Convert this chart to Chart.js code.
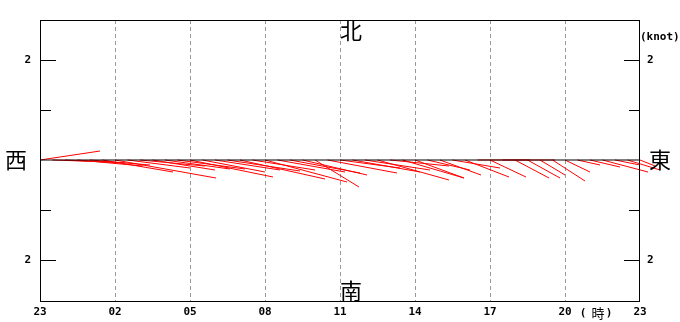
<!DOCTYPE html>
<html>
<head>
<meta charset="utf-8">
<script src="https://cdn.jsdelivr.net/npm/chart.js@4.4.1/dist/chart.umd.min.js"></script>
<style>
  html, body { margin: 0; padding: 0; background: #fff; }
  #wrap { width: 680px; height: 322px; position: relative; }
</style>
</head>
<body>
<div id="wrap"><canvas id="stick-chart"></canvas></div>
<script>
// hour axis (0 = 23h of the previous day)
const hourLabels = ['23', '02', '05', '08', '11', '14', '17', '20', '23'];
const yTicks = [-2, -1, 0, 1, 2];

// sample times in hours from start, every 30 minutes
const times = [
    0, 0.5, 1, 1.5, 2, 2.5, 3, 3.5, 4, 4.5, 5, 5.5, 6, 6.5, 7, 7.5,
    8, 8.5, 9, 9.5, 10, 10.5, 11, 11.5, 12, 12.5, 13, 13.5, 14, 14.5, 15, 15.5,
    16, 16.5, 17, 17.5, 18, 18.5, 19, 19.5, 20, 20.5, 21, 21.5, 22, 22.5, 23, 23.5, 24
];
// eastward component (knot)
const eastKnot = [
    1.20, 1.19, 1.20, 1.31, 1.20, 1.41, 2.02, 1.25, 1.30, 1.25, 1.30, 1.35, 1.66, 1.25, 1.30, 1.45,
    1.70, 1.25, 1.64, 1.35, 1.40, 1.29, 0.88, 1.39, 1.20, 1.35, 1.30, 1.43, 1.18, 1.23, 0.98, 0.85,
    0.82, 0.95, 0.88, 1.05, 0.72, 1.05, 0.68, 0.65, 0.50, 0.65, 0.50, 0.45, 0.60, 0.91, 0.50, 0.65, 0.30
];
// northward component (knot)
const northKnot = [
    0.18, -0.04, -0.06, -0.12, -0.10, -0.24, -0.36, -0.16, -0.12, -0.20, -0.18, -0.18, -0.34, -0.24, -0.20, -0.22,
    -0.38, -0.20, -0.44, -0.24, -0.26, -0.30, -0.54, -0.26, -0.16, -0.24, -0.20, -0.40, -0.12, -0.36, -0.36, -0.20,
    -0.30, -0.16, -0.34, 0.00, -0.34, 0.00, -0.36, -0.36, -0.30, -0.42, -0.24, -0.10, -0.14, -0.24, -0.10, -0.20, -0.12
];

// x axis: 25px per hour, y axis: 50px per knot -> 1 knot east = 2 hours on x
const hoursPerKnot = 2;

const monoFont = { family: 'DejaVu Sans Mono', size: 11, weight: 'bold' };
const cjkFont = '"Noto Sans CJK JP", "Noto Sans CJK SC", sans-serif';

// one dataset for every stick
const stickSets = times.map((t, i) => ({
    data: [{ x: t, y: 0 }, { x: t + eastKnot[i] * hoursPerKnot, y: northKnot[i] }],
    borderColor: '#ff0000',
    borderWidth: 1,
    pointRadius: 0,
    showLine: true,
    clip: false
}));

const baseLine = {
    data: [{ x: 0, y: 0 }, { x: 24, y: 0 }],
    borderColor: '#000',
    borderWidth: 1,
    pointRadius: 0,
    showLine: true
};

const decorations = {
    id: 'decorations',
    afterDraw(chart) {
        const ctx = chart.ctx;
        const area = chart.chartArea;
        const y = chart.scales.y;
        ctx.save();
        ctx.strokeStyle = '#000';
        ctx.lineWidth = 1;
        ctx.strokeRect(Math.round(area.left) + 0.5, Math.round(area.top) + 0.5,
            Math.round(area.right - area.left) - 1, Math.round(area.bottom - area.top) - 1);

        // inward tick marks on both sides
        ctx.beginPath();
        yTicks.forEach(v => {
            if (v === 0) return;
            const py = Math.round(y.getPixelForValue(v)) + 0.5;
            const len = Math.abs(v) === 2 ? 16 : 11;
            ctx.moveTo(area.left, py);
            ctx.lineTo(area.left + len, py);
            ctx.moveTo(area.right, py);
            ctx.lineTo(area.right - len, py);
        });
        ctx.stroke();

        // compass words
        ctx.fillStyle = '#000';
        ctx.textAlign = 'center';
        ctx.textBaseline = 'middle';
        ctx.font = '22px ' + cjkFont;
        const midX = (area.left + area.right) / 2;
        ctx.fillText('北', midX + 11, 31);
        ctx.fillText('南', midX + 11, 291);
        ctx.fillText('西', 16, y.getPixelForValue(0));
        ctx.fillText('東', 660, y.getPixelForValue(0));

        // units
        ctx.font = 'bold 11px "DejaVu Sans Mono"';
        ctx.textAlign = 'left';
        ctx.fillText('(knot)', 640, 37);
        ctx.textAlign = 'center';
        ctx.fillText('(', 583, 313);
        ctx.fillText(')', 609, 313);
        ctx.font = '13px ' + cjkFont;
        ctx.fillText('時', 598, 313);
        ctx.restore();
    }
};

function fixedWidth(w) {
    return function(scale) { scale.width = w; };
}
function useTicks(scale) {
    scale.ticks = yTicks.map(v => ({ value: v }));
}
function twoLabel(value) {
    return Math.abs(value) === 2 ? '2' : '';
}

new Chart(document.getElementById('stick-chart'), {
    type: 'scatter',
    data: { datasets: [baseLine].concat(stickSets) },
    options: {
        responsive: true,
        maintainAspectRatio: false,
        animation: false,
        layout: { padding: { top: 20, left: 0, right: 0, bottom: 0 } },
        plugins: { legend: { display: false }, tooltip: { enabled: false } },
        scales: {
            x: {
                type: 'linear',
                min: 0,
                max: 24,
                afterFit: function(scale) { scale.height = 20; },
                border: { display: false, dash: [4, 3] },
                grid: {
                    drawTicks: false,
                    color: ctx => (ctx.tick && (ctx.tick.value === 0 || ctx.tick.value === 24)) ? 'rgba(0,0,0,0)' : '#999'
                },
                ticks: {
                    stepSize: 3,
                    autoSkip: false,
                    maxRotation: 0,
                    padding: 4,
                    color: '#000',
                    font: monoFont,
                    callback: value => hourLabels[value / 3]
                }
            },
            y: {
                type: 'linear',
                position: 'left',
                min: -2.84,
                max: 2.8,
                afterBuildTicks: useTicks,
                afterFit: fixedWidth(40),
                border: { display: false },
                grid: { display: false, drawTicks: false },
                ticks: { padding: 9, color: '#000', font: monoFont, callback: twoLabel }
            },
            y2: {
                type: 'linear',
                position: 'right',
                min: -2.84,
                max: 2.8,
                afterBuildTicks: useTicks,
                afterFit: fixedWidth(40),
                border: { display: false },
                grid: { display: false, drawTicks: false },
                ticks: { padding: 7, color: '#000', font: monoFont, callback: twoLabel }
            }
        }
    },
    plugins: [decorations]
});
</script>
</body>
</html>
